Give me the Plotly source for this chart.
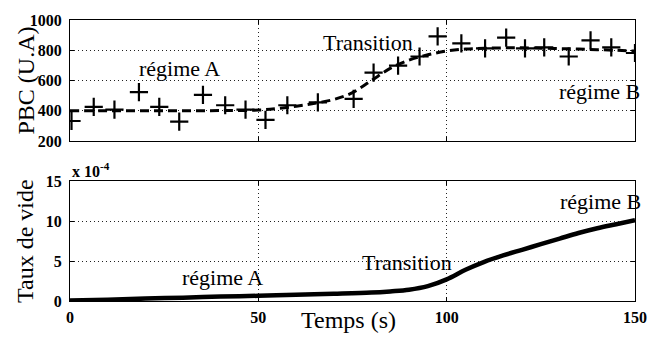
import plotly.graph_objects as go

# --- data ---
pbc_t = [0.4, 6.3, 11.8, 18.3, 23.7, 29.0, 35.3, 41.2, 46.6, 51.9, 57.7, 65.8,
         75.3, 80.6, 87.1, 92.8, 97.6, 103.9, 110.2, 115.8, 120.8, 125.9,
         132.4, 138.2, 143.7, 150.0]
pbc_val = [333, 426, 408, 523, 426, 329, 505, 437, 408, 340, 437, 456,
           479, 652, 699, 759, 892, 845, 813, 884, 813, 819,
           759, 866, 819, 782]

fit_t = [0, 10, 20, 30, 40, 50, 55, 60, 65, 70, 75, 80, 85, 90, 95, 100,
         105, 110, 115, 120, 125, 130, 135, 140, 145, 150]
fit_val = [400, 400, 400, 400, 402, 405, 415, 430, 450, 475, 520, 600, 680,
           735, 770, 795, 808, 813, 816, 816, 814, 811, 808, 804, 800, 795]

vide_t = [0, 10, 20, 30, 40, 50, 60, 70, 80, 85, 90, 95, 100, 105, 110, 115,
          120, 125, 130, 135, 140, 145, 150]
vide_val = [0.05, 0.15, 0.3, 0.42, 0.55, 0.65, 0.78, 0.9, 1.05, 1.2, 1.4, 1.85,
            2.7, 3.9, 4.9, 5.7, 6.4, 7.1, 7.8, 8.5, 9.1, 9.6, 10.1]

x_ticks = [0, 50, 100, 150]
pbc_ticks = [200, 400, 600, 800, 1000]
vide_ticks = [0, 5, 10, 15]

FONT = "Liberation Serif, Times New Roman, Times, serif"

fig = go.Figure()
fig.add_trace(go.Scatter(x=fit_t, y=fit_val, mode="lines", xaxis="x", yaxis="y",
                         line=dict(color="black", width=3, dash="9px,5px", shape="spline"),
                         showlegend=False))
fig.add_trace(go.Scatter(x=pbc_t, y=pbc_val, mode="markers", xaxis="x", yaxis="y",
                         marker=dict(symbol="cross-thin", size=13,
                                     line=dict(color="black", width=2.2)),
                         showlegend=False))
fig.add_trace(go.Scatter(x=vide_t, y=vide_val, mode="lines", xaxis="x2", yaxis="y2",
                         line=dict(color="black", width=4.5, shape="spline"),
                         showlegend=False))

ax_common = dict(showline=True, linecolor="black", linewidth=1, mirror="ticks",
                 ticks="inside", ticklen=4, tickcolor="black",
                 showgrid=True, gridcolor="#222", griddash="1px,3px", gridwidth=1,
                 zeroline=False,
                 tickfont=dict(family=FONT, size=16, color="black", weight="bold"))

fig.update_layout(
    width=659, height=338,
    margin=dict(l=70, r=15, t=16, b=34),
    paper_bgcolor="white", plot_bgcolor="white",
    font=dict(family=FONT, color="black"),
    xaxis=dict(domain=[0, 1], range=[0, 150], tickvals=x_ticks, showticklabels=False,
               anchor="y", **ax_common),
    yaxis=dict(domain=[0.569, 1], range=[200, 1000], tickvals=pbc_ticks,
               anchor="x", ticklabelstandoff=4, **ax_common),
    xaxis2=dict(domain=[0, 1], range=[0, 150], tickvals=x_ticks, anchor="y2",
                ticklabelstandoff=2, **ax_common),
    yaxis2=dict(domain=[0, 0.427], range=[0, 15], tickvals=vide_ticks,
                anchor="x2", ticklabelstandoff=4, **ax_common),
)

ann_font = dict(family=FONT, size=22, color="black")
anns = [
    dict(text="régime A", x=29.0, y=678, xref="x", yref="y"),
    dict(text="Transition", x=79.2, y=850, xref="x", yref="y"),
    dict(text="régime B", x=140.7, y=527, xref="x", yref="y"),
    dict(text="régime A", x=40.6, y=3.0, xref="x2", yref="y2"),
    dict(text="Transition", x=89.5, y=4.85, xref="x2", yref="y2"),
    dict(text="régime B", x=140.9, y=12.4, xref="x2", yref="y2"),
]
for a in anns:
    fig.add_annotation(showarrow=False, font=ann_font, xanchor="center",
                       yanchor="middle", **a)

# axis titles
fig.add_annotation(text="PBC (U.A)", textangle=-90, x=0, xshift=-44, y=0.7845,
                   xref="paper", yref="paper", showarrow=False,
                   xanchor="center", yanchor="middle",
                   font=dict(family=FONT, size=24, color="black"))
fig.add_annotation(text="Taux de vide", textangle=-90, x=0, xshift=-45, y=0.2135,
                   xref="paper", yref="paper", showarrow=False,
                   xanchor="center", yanchor="middle",
                   font=dict(family=FONT, size=24, color="black"))
fig.add_annotation(text="Temps (s)", x=0.5, xshift=-4, y=0, yshift=-19,
                   xref="paper", yref="paper", showarrow=False,
                   xanchor="center", yanchor="middle",
                   font=dict(family=FONT, size=24, color="black"))
fig.add_annotation(text="x 10<sup>-4</sup>", x=0, y=0.427, yshift=-1,
                   xref="paper", yref="paper", showarrow=False,
                   xanchor="left", yanchor="bottom",
                   font=dict(family=FONT, size=16, color="black", weight="bold"))

fig.write_html("out.html")
